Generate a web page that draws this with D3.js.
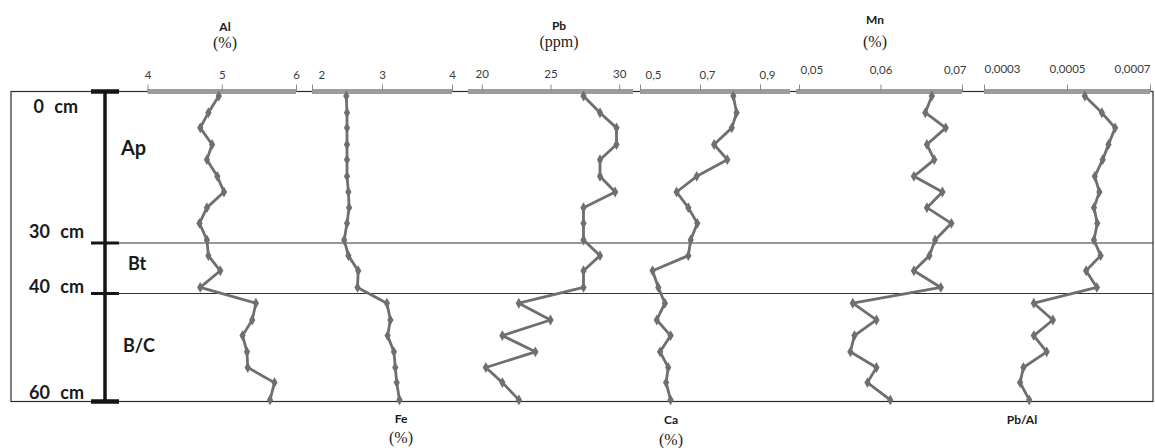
<!DOCTYPE html>
<html>
<head>
<meta charset="utf-8">
<script src="https://cdn.jsdelivr.net/npm/d3@7"></script>
<style>
  html, body { margin: 0; padding: 0; background: #ffffff; }
  svg { display: block; }
</style>
</head>
<body>
<svg id="chart" width="1155" height="448"></svg>
<script>
// Sampling depths of the profile (cm)
const depths = [0.9, 4.2, 7.2, 10.5, 13.5, 16.8, 19.9, 23, 26.1, 29.4,
                32.5, 35.5, 38.8, 41.8, 44.9, 47.8, 50.8, 53.7, 56.5, 59.7];

// Element concentrations at each depth
const al   = [4.96, 4.82, 4.71, 4.87, 4.80, 4.94, 5.03, 4.80, 4.70, 4.80,
              4.82, 4.98, 4.71, 5.46, 5.41, 5.28, 5.34, 5.35, 5.71, 5.65];
const fe   = [2.49, 2.50, 2.50, 2.50, 2.50, 2.50, 2.52, 2.53, 2.50, 2.46,
              2.52, 2.66, 2.65, 3.07, 3.12, 3.08, 3.17, 3.19, 3.21, 3.25];
const pb   = [27.4, 28.6, 29.8, 29.8, 28.6, 28.6, 29.7, 27.4, 27.4, 27.4,
              28.6, 27.4, 27.4, 22.7, 25.0, 21.5, 23.9, 20.3, 21.5, 22.7];
const ca   = [0.811, 0.822, 0.806, 0.747, 0.791, 0.689, 0.622, 0.661, 0.691, 0.669,
              0.661, 0.542, 0.561, 0.583, 0.556, 0.602, 0.567, 0.594, 0.587, 0.602];
const mn   = [0.0663, 0.0655, 0.0680, 0.0657, 0.0666, 0.0641, 0.0676, 0.0657, 0.0687, 0.0667,
              0.0660, 0.0641, 0.0674, 0.0566, 0.0595, 0.0568, 0.0563, 0.0595, 0.0584, 0.0612];
const pbAl = [0.000543, 0.000584, 0.000616, 0.000600, 0.000586, 0.000567, 0.000578, 0.000565, 0.000573, 0.000565,
              0.000581, 0.000546, 0.000572, 0.000420, 0.000466, 0.000420, 0.000451, 0.000395, 0.000387, 0.000409];

// Names and units
const elements = ["Al", "Fe", "Pb", "Ca", "Mn", "Pb/Al"];
const units    = ["(%)", "(%)", "(ppm)", "(%)", "(%)", ""];

// Axis ticks and their labels
const alTicks   = [4, 5, 6],                 alTickLabels   = ["4", "5", "6"];
const feTicks   = [2, 3, 4],                 feTickLabels   = ["2", "3", "4"];
const pbTicks   = [20, 25, 30],              pbTickLabels   = ["20", "25", "30"];
const caTicks   = [0.5, 0.7, 0.9],           caTickLabels   = ["0,5", "0,7", "0,9"];
const mnTicks   = [0.05, 0.06, 0.07],        mnTickLabels   = ["0,05", "0,06", "0,07"];
const pbAlTicks = [0.0003, 0.0005, 0.0007],  pbAlTickLabels = ["0,0003", "0,0005", "0,0007"];

// Soil horizons
const horizonNames  = ["Ap", "Bt", "B/C"];
const horizonBounds = [0, 30, 40, 60];
const depthLabels   = ["0 cm", "30 cm", "40 cm", "60 cm"];

// ---------------------------------------------------------------------------
const svg = d3.select("#chart");
const SANS = "Lato, 'Open Sans', sans-serif";
const SERIF = "'Liberation Serif', 'DejaVu Serif', serif";
const LINE_COLOR = "#6f6f6f";
const BAR_COLOR = "#9c9c9c";

const frame = { left: 11, right: 1153, top: 91.5, bottom: 401.5 };

// depth axis (piecewise so the horizon boundaries sit on their rules)
const y = d3.scaleLinear()
  .domain(horizonBounds)
  .range([frame.top, 243, 293.5, frame.bottom]);

// panel layout
const panels = [
  { name: 0, values: al,   domain: [4, 6],           range: [147.5, 296], ticks: alTicks,   labels: alTickLabels,
    labelY: 79, title: { x: 225, y: 31, uy: 48 } },
  { name: 1, values: fe,   domain: [2, 4],           range: [312, 452],   ticks: feTicks,   labels: feTickLabels,
    labelY: 79, clampStart: 6, title: { x: 401, y: 423, uy: 443 } },
  { name: 2, values: pb,   domain: [19, 31],         range: [468, 633],   ticks: pbTicks,   labels: pbTickLabels,
    labelY: 78, title: { x: 559, y: 30, uy: 47 } },
  { name: 3, values: ca,   domain: [0.5, 1.0],       range: [640, 790],   ticks: caTicks,   labels: caTickLabels,
    labelY: 79, dx: 7, clampStart: 5, title: { x: 671, y: 424, uy: 445 } },
  { name: 4, values: mn,   domain: [0.05, 0.07],     range: [799, 962],   ticks: mnTicks,   labels: mnTickLabels,
    labelY: 74, clampStart: 1, clampEnd: -4, barStart: 796, title: { x: 875, y: 24, uy: 47 } },
  { name: 5, values: pbAl, domain: [0.0003, 0.0007], range: [984, 1150],  ticks: pbAlTicks, labels: pbAlTickLabels,
    labelY: 73, clampStart: 0, clampEnd: 0, title: { x: 1022, y: 424, uy: null } }
];

// frame of the profile
const g = svg.append("g");
g.append("rect")
  .attr("x", frame.left).attr("y", frame.top)
  .attr("width", frame.right - frame.left).attr("height", frame.bottom - frame.top)
  .attr("fill", "none").attr("stroke", "#2b2b2b").attr("stroke-width", 1.2);

// horizon boundaries
g.selectAll("line.horizon")
  .data(horizonBounds.slice(1, 3))
  .join("line")
  .attr("class", "horizon")
  .attr("x1", 105).attr("x2", frame.right)
  .attr("y1", d => y(d)).attr("y2", d => y(d))
  .attr("stroke", "#333").attr("stroke-width", 1.1);

// depth bar
const depthX = 105;
g.append("line")
  .attr("x1", depthX).attr("x2", depthX)
  .attr("y1", y(0)).attr("y2", y(60))
  .attr("stroke", "#151515").attr("stroke-width", 3.5);
g.selectAll("line.cap")
  .data(horizonBounds)
  .join("line")
  .attr("class", "cap")
  .attr("x1", 91).attr("x2", 119)
  .attr("y1", d => y(d)).attr("y2", d => y(d))
  .attr("stroke", "#151515")
  .attr("stroke-width", (d, i) => (i === 0 || i === horizonBounds.length - 1) ? 4.5 : 3);

// depth labels
const depthLabelPos = [{ x: 78, y: 113 }, { x: 84, y: 238 }, { x: 84, y: 293 }, { x: 84, y: 399 }];
g.selectAll("text.depth")
  .data(depthLabels)
  .join("text")
  .attr("class", "depth")
  .attr("x", (d, i) => depthLabelPos[i].x)
  .attr("y", (d, i) => depthLabelPos[i].y)
  .attr("text-anchor", "end")
  .attr("font-family", SANS).attr("font-weight", 700).attr("font-size", 18)
  .attr("word-spacing", 6)
  .attr("fill", "#1a1a1a")
  .text(d => d);

// horizon names
const horizonPos = [{ x: 121, y: 155, s: 20 }, { x: 128, y: 270, s: 18 }, { x: 123, y: 352, s: 18 }];
g.selectAll("text.hname")
  .data(horizonNames)
  .join("text")
  .attr("class", "hname")
  .attr("x", (d, i) => horizonPos[i].x)
  .attr("y", (d, i) => horizonPos[i].y)
  .attr("font-family", SANS).attr("font-weight", 700)
  .attr("font-size", (d, i) => horizonPos[i].s)
  .attr("fill", "#1a1a1a")
  .text(d => d);

// panels
const diamond = d3.symbol().type(d3.symbolDiamond).size(34);

panels.forEach(p => {
  const x = d3.scaleLinear().domain(p.domain).range(p.range);
  const pg = svg.append("g");

  // top scale bar
  const axis = d3.axisTop(x)
    .tickValues(p.ticks)
    .tickFormat((d, i) => p.labels[i])
    .tickSizeInner(8)
    .tickSizeOuter(0)
    .tickPadding(0);
  const ag = pg.append("g").attr("transform", `translate(0,${frame.top})`).call(axis);
  ag.select(".domain").remove();
  const x0 = p.barStart != null ? p.barStart : p.range[0];
  ag.insert("line", ":first-child")
    .attr("x1", x0).attr("x2", p.range[1])
    .attr("y1", 0).attr("y2", 0)
    .attr("stroke", BAR_COLOR).attr("stroke-width", 5);
  ag.selectAll(".tick line").attr("stroke", "#8a8a8a").attr("stroke-width", 1).attr("y2", -7);
  ag.selectAll(".tick text")
    .attr("font-family", SANS).attr("font-size", 11.5).attr("fill", "#3a3a3a")
    .attr("y", p.labelY - frame.top).attr("dy", null);
  // keep labels inside the bar ends
  ag.selectAll(".tick").each(function (d) {
    const t = d3.select(this).select("text");
    const w = t.node().getComputedTextLength();
    let cx = x(d) + (p.dx || 0);
    if (p.clampStart != null) cx = Math.max(cx, p.range[0] + w / 2 + p.clampStart);
    if (p.clampEnd != null) cx = Math.min(cx, p.range[1] - w / 2 - p.clampEnd);
    t.attr("x", cx - x(d));
  });
  ag.attr("font-family", null).attr("font-size", null);

  // profile line
  const pts = p.values.map((v, i) => [x(v), y(depths[i])]);
  pg.append("path")
    .attr("d", d3.line()(pts))
    .attr("fill", "none")
    .attr("stroke", LINE_COLOR)
    .attr("stroke-width", 2.8)
    .attr("stroke-linejoin", "round");
  pg.selectAll("path.mk")
    .data(pts)
    .join("path")
    .attr("class", "mk")
    .attr("transform", d => `translate(${d[0]},${d[1]})`)
    .attr("d", diamond)
    .attr("fill", LINE_COLOR);

  // element name and unit
  pg.append("text")
    .attr("x", p.title.x).attr("y", p.title.y)
    .attr("text-anchor", "middle")
    .attr("font-family", SANS).attr("font-weight", 700).attr("font-size", 12)
    .attr("fill", "#1a1a1a")
    .text(elements[p.name]);
  if (units[p.name] && p.title.uy != null) {
    pg.append("text")
      .attr("x", p.title.x).attr("y", p.title.uy)
      .attr("text-anchor", "middle")
      .attr("font-family", SERIF).attr("font-size", 16)
      .attr("fill", "#222")
      .text(units[p.name]);
  }
});
</script>
</body>
</html>
